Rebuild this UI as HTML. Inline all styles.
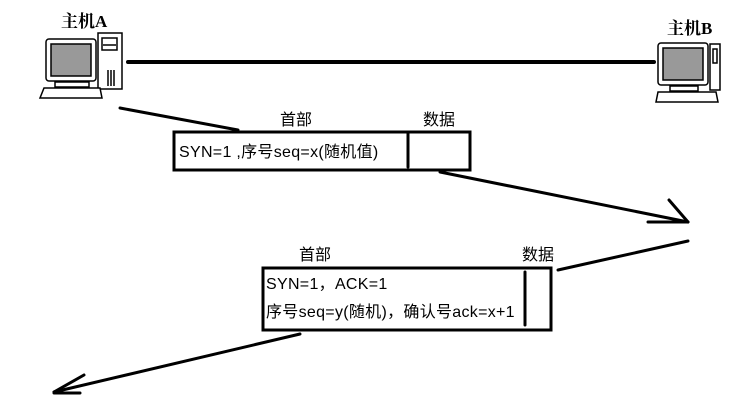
<!DOCTYPE html>
<html><head><meta charset="utf-8"><style>
body{margin:0;background:#fff;width:754px;height:404px;overflow:hidden;position:relative;font-family:"Liberation Sans","Noto Sans CJK SC",sans-serif;}
.t{position:absolute;font-size:16px;color:#000;white-space:nowrap;line-height:1}
</style></head><body>
<svg width="754" height="404" style="position:absolute;left:0;top:0">
<g stroke="#000" fill="none" stroke-linecap="round">
<line x1="128" y1="62" x2="654" y2="62" stroke-width="4"/>
<line x1="120" y1="108" x2="238" y2="130" stroke-width="3"/>
<line x1="440" y1="172" x2="688" y2="222" stroke-width="3"/>
<line x1="688" y1="222" x2="669" y2="200" stroke-width="3"/>
<line x1="688" y1="222" x2="648" y2="222" stroke-width="3"/>
<line x1="688" y1="241" x2="558" y2="270" stroke-width="3"/>
<line x1="300" y1="334" x2="54" y2="392" stroke-width="3"/>
<line x1="54" y1="392" x2="84" y2="375" stroke-width="3"/>
<line x1="54" y1="393" x2="80" y2="393" stroke-width="3"/>
<rect x="174" y="132" width="296" height="38" stroke-width="3" fill="#fff"/>
<line x1="408" y1="133" x2="408" y2="167" stroke-width="3"/>
<rect x="263" y="268" width="288" height="62" stroke-width="3" fill="#fff"/>
<line x1="525" y1="272" x2="525" y2="325" stroke-width="3"/>
</g>
<g stroke="#000" stroke-width="1.5">
<rect x="46" y="39" width="50" height="42" rx="3" fill="#fff"/>
<rect x="51" y="44" width="40" height="32" fill="#999"/>
<rect x="98" y="33" width="24" height="56" fill="#fff"/>
<rect x="102" y="38" width="15" height="12" fill="#fff"/>
<line x1="103" y1="45" x2="116" y2="45"/>
<line x1="108" y1="70" x2="108" y2="86"/><line x1="111" y1="70" x2="111" y2="86"/><line x1="114" y1="70" x2="114" y2="86"/>
<rect x="55" y="82" width="34" height="5" fill="#fff"/>
<path d="M44 88 L100 88 L102 98 L40 98 Z" fill="#fff"/>
</g>
<g stroke="#000" stroke-width="1.5">
<rect x="658" y="43" width="50" height="42" rx="3" fill="#fff"/>
<rect x="663" y="48" width="40" height="32" fill="#999"/>
<rect x="710" y="44" width="10" height="46" fill="#fff"/>
<rect x="713" y="49" width="4" height="14" fill="#fff"/>
<rect x="670" y="86" width="28" height="5" fill="#fff"/>
<path d="M658 92 L716 92 L718 102 L656 102 Z" fill="#fff"/>
</g>
</svg>
<div class="t" style="left:61px;top:13px;font-family:'Liberation Serif','Noto Serif CJK SC',serif;font-weight:bold;font-size:17px">主机A</div>
<div class="t" style="left:667px;top:20px;font-family:'Liberation Serif','Noto Serif CJK SC',serif;font-weight:bold;font-size:17px">主机B</div>
<div class="t" style="left:280px;top:113px">首部</div>
<div class="t" style="left:423px;top:113px">数据</div>
<div class="t" style="left:179px;top:145px;letter-spacing:0.3px">SYN=1 ,序号seq=x(随机值)</div>
<div class="t" style="left:299px;top:248px">首部</div>
<div class="t" style="left:522px;top:248px">数据</div>
<div class="t" style="left:266px;top:277px;letter-spacing:0.3px">SYN=1，ACK=1</div>
<div class="t" style="left:266px;top:305px;letter-spacing:0.3px">序号seq=y(随机)，确认号ack=x+1</div>
</body></html>
